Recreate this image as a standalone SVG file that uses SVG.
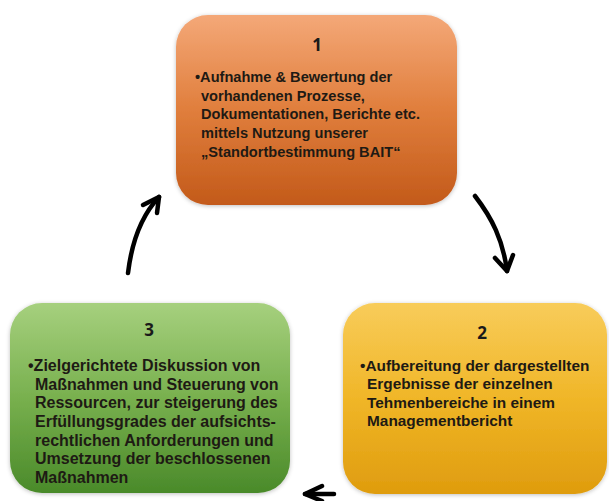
<svg xmlns="http://www.w3.org/2000/svg" width="609" height="501" viewBox="0 0 609 501">
<defs>
<linearGradient id="gOrange" x1="0" y1="0" x2="0" y2="1">
<stop offset="0" stop-color="#f4a878"/>
<stop offset="0.5" stop-color="#e07e3c"/>
<stop offset="1" stop-color="#c35a1a"/>
</linearGradient>
<linearGradient id="gYellow" x1="0" y1="0" x2="0" y2="1">
<stop offset="0" stop-color="#f8cc5a"/>
<stop offset="0.5" stop-color="#f0b628"/>
<stop offset="1" stop-color="#df9c0e"/>
</linearGradient>
<linearGradient id="gGreen" x1="0" y1="0" x2="0" y2="1">
<stop offset="0" stop-color="#a6d07e"/>
<stop offset="0.5" stop-color="#78b04e"/>
<stop offset="1" stop-color="#4a8a2a"/>
</linearGradient>
<filter id="soft" x="-10%" y="-10%" width="120%" height="120%">
<feGaussianBlur in="SourceAlpha" stdDeviation="2"/>
<feOffset dx="0" dy="1" result="b"/>
<feFlood flood-color="#000" flood-opacity="0.25"/>
<feComposite in2="b" operator="in"/>
<feMerge><feMergeNode/><feMergeNode in="SourceGraphic"/></feMerge>
</filter>
</defs>
<style>
.title{font-family:"Open Sans","Liberation Sans",sans-serif;font-weight:700;font-size:17px;fill:#1a1a1a;text-anchor:middle}
.body{font-family:"Liberation Sans",Arial,sans-serif;font-weight:700;font-size:15px;fill:#1e1a14}
.b1{font-size:14.6px}
.b2{font-size:15.4px}
.b3{font-size:16px}
.arrow{fill:none;stroke:#000;stroke-width:4.5;stroke-linecap:round;stroke-linejoin:round}
</style>
<g id="node1">
<rect x="176" y="15" width="281" height="190" rx="32" ry="32" fill="url(#gOrange)" filter="url(#soft)"/>
<text class="title" x="317" y="51">1</text>
<text class="body b1"><tspan x="195" y="82">•Aufnahme &amp; Bewertung der</tspan><tspan x="201" y="101">vorhandenen Prozesse,</tspan><tspan x="201" y="119">Dokumentationen, Berichte etc.</tspan><tspan x="201" y="138">mittels Nutzung unserer</tspan><tspan x="201" y="157">„Standortbestimmung BAIT“</tspan></text>
</g>
<g id="node2">
<rect x="343" y="303" width="264" height="191" rx="32" ry="32" fill="url(#gYellow)" filter="url(#soft)"/>
<text class="title" x="482" y="339">2</text>
<text class="body b2"><tspan x="360" y="371">•Aufbereitung der dargestellten</tspan><tspan x="367" y="389">Ergebnisse der einzelnen</tspan><tspan x="367" y="408">Tehmenbereiche in einem</tspan><tspan x="367" y="426">Managementbericht</tspan></text>
</g>
<g id="node3">
<rect x="10" y="303" width="280" height="190" rx="32" ry="32" fill="url(#gGreen)" filter="url(#soft)"/>
<text class="title" x="149" y="336">3</text>
<text class="body b3"><tspan x="28" y="371">•Zielgerichtete Diskussion von</tspan><tspan x="35" y="390">Maßnahmen und Steuerung von</tspan><tspan x="35" y="408">Ressourcen, zur steigerung des</tspan><tspan x="35" y="427">Erfüllungsgrades der aufsichts-</tspan><tspan x="35" y="446">rechtlichen Anforderungen und</tspan><tspan x="35" y="464">Umsetzung der beschlossenen</tspan><tspan x="35" y="483">Maßnahmen</tspan></text>
</g>
<g id="connectors">
<path class="arrow" d="M128,273 C132,240 142,215 159,197"/>
<path class="arrow" d="M143,205 L159,197 L157,213"/>
<path class="arrow" d="M475,196 C492,218 503,240 507,271"/>
<path class="arrow" d="M495,258 L507,271 L513,255"/>
<path class="arrow" d="M334,494 L305,494"/>
<path class="arrow" d="M322,486 L305,494 L322,501"/>
</g>
</svg>
